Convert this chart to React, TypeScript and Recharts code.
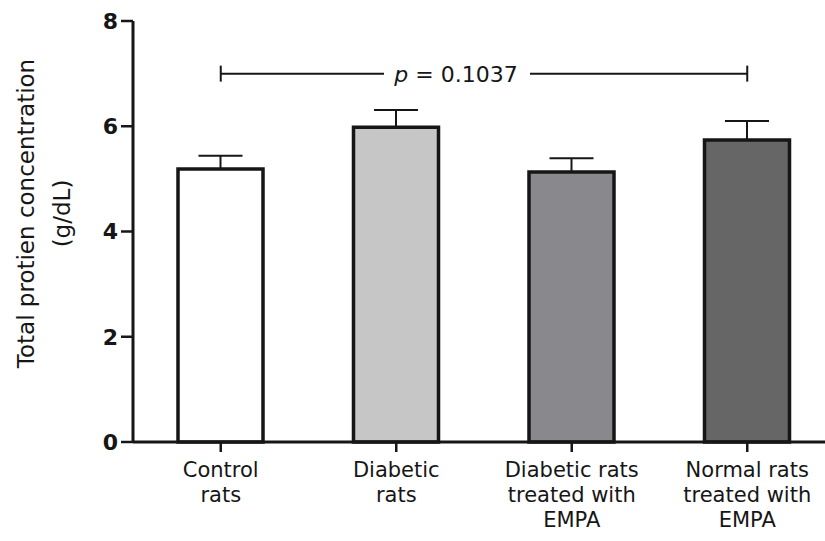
import { BarChart, Bar, XAxis, YAxis, ErrorBar, Cell, ReferenceLine } from "recharts";

const categories = [
  "Control rats",
  "Diabetic rats",
  "Diabetic rats treated with EMPA",
  "Normal rats treated with EMPA",
];
const labelLines = [
  ["Control", "rats"],
  ["Diabetic", "rats"],
  ["Diabetic rats", "treated with", "EMPA"],
  ["Normal rats", "treated with", "EMPA"],
];
const means = [5.19, 5.98, 5.13, 5.74];
const sems = [0.25, 0.33, 0.26, 0.36];
const fills = ["#ffffff", "#c6c6c6", "#89888d", "#666666"];
const yTicks = [0, 2, 4, 6, 8];
const pValue = "0.1037";
const bracketY = 7;

const data = categories.map((name, i) => ({
  name,
  mean: means[i],
  err: [0, sems[i]],
}));

const FONT = "'DejaVu Sans', sans-serif";
const INK = "#161616";

function CategoryTick(props: any) {
  const { x, y, payload } = props;
  const idx = categories.indexOf(payload.value);
  const lines = labelLines[idx] || [payload.value];
  return (
    <text x={x} y={y} textAnchor="middle" fontFamily={FONT} fontSize={21} fill={INK}>
      {lines.map((l, i) => (
        <tspan key={i} x={x} y={y + 23 + i * 25}>
          {l}
        </tspan>
      ))}
    </text>
  );
}

function YLabel(props: any) {
  const vb = props.viewBox || { x: 0, y: 21, width: 133, height: 421 };
  const cy = vb.y + vb.height / 2 - 18;
  return (
    <g>
      <text
        transform={`translate(34, ${cy}) rotate(-90)`}
        textAnchor="middle"
        fontFamily={FONT}
        fontSize={23}
        fill={INK}
      >
        Total protien concentration
      </text>
      <text
        transform={`translate(70, ${cy}) rotate(-90)`}
        textAnchor="middle"
        fontFamily={FONT}
        fontSize={23}
        fill={INK}
      >
        (g/dL)
      </text>
    </g>
  );
}

function Bracket(props: any) {
  const { x1, y1, x2 } = props;
  const mid = (x1 + x2) / 2;
  const tx = mid - 28;
  return (
    <g>
      <line x1={x1} y1={y1} x2={tx - 72} y2={y1} stroke={INK} strokeWidth={2} />
      <line x1={tx + 74} y1={y1} x2={x2} y2={y1} stroke={INK} strokeWidth={2} />
      <line x1={x1} y1={y1 - 8} x2={x1} y2={y1 + 8} stroke={INK} strokeWidth={2} />
      <line x1={x2} y1={y1 - 8} x2={x2} y2={y1 + 8} stroke={INK} strokeWidth={2} />
      <text x={tx} y={y1 + 8} textAnchor="middle" fontFamily={FONT} fontSize={22} fill={INK}>
        <tspan fontStyle="italic">p</tspan> = {pValue}
      </text>
    </g>
  );
}

export default function App() {
  return (
    <div
      style={{
        position: "absolute",
        left: 0,
        top: 0,
        width: 825,
        height: 541,
        overflow: "hidden",
        background: "#fff",
      }}
    >
      <BarChart
        width={835}
        height={541}
        data={data}
        margin={{ top: 21, right: 0, bottom: 0, left: 0 }}
        barSize={85}
      >
        <XAxis
          dataKey="name"
          height={99}
          interval={0}
          tickSize={10}
          tickMargin={2}
          axisLine={{ stroke: INK, strokeWidth: 3 }}
          tickLine={{ stroke: INK, strokeWidth: 2.5 }}
          tick={<CategoryTick />}
        />
        <YAxis
          width={133}
          domain={[0, 8]}
          ticks={yTicks}
          interval={0}
          tickSize={12}
          tickMargin={3}
          axisLine={{ stroke: INK, strokeWidth: 3 }}
          tickLine={{ stroke: INK, strokeWidth: 2.5 }}
          tick={{ fill: INK, fontFamily: FONT, fontSize: 22, fontWeight: "bold" }}
          label={<YLabel />}
        />
        <ReferenceLine
          segment={[
            { x: categories[0], y: bracketY },
            { x: categories[3], y: bracketY },
          ]}
          ifOverflow="visible"
          shape={<Bracket />}
        />
        <Bar dataKey="mean" stroke={INK} strokeWidth={3.5} isAnimationActive={false}>
          {data.map((d, i) => (
            <Cell key={d.name} fill={fills[i]} />
          ))}
          <ErrorBar dataKey="err" direction="y" width={22} stroke={INK} strokeWidth={2} />
        </Bar>
      </BarChart>
    </div>
  );
}
